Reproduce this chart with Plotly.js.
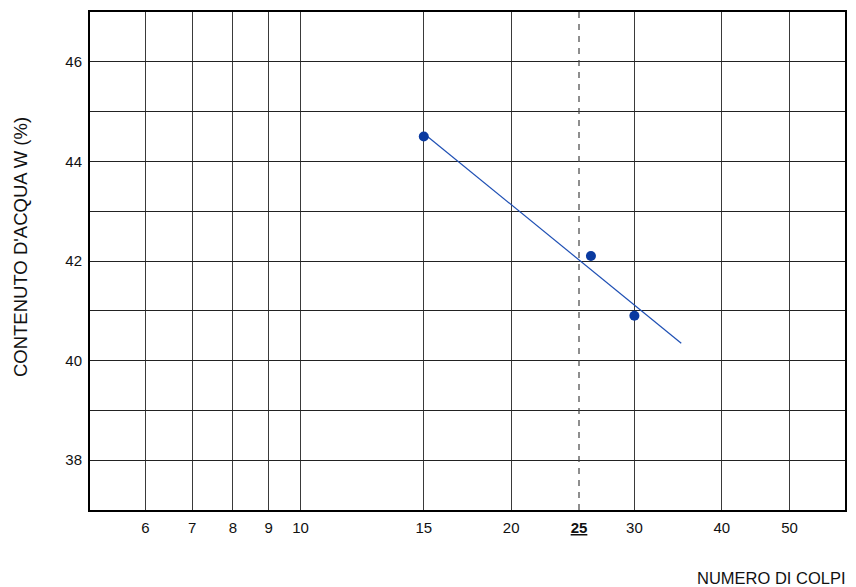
<!DOCTYPE html>
<html>
<head>
<meta charset="utf-8">
<script src="https://cdn.plot.ly/plotly-3.0.1.min.js"></script>
<style>
  html, body { margin: 0; padding: 0; background: #fff; }
  #chart { width: 856px; height: 587px; }
</style>
</head>
<body>
<div id="chart"></div>
<script>
// Prove di Casagrande: numero di colpi e contenuto d'acqua
const colpi = [15, 26, 30];
const contenutoAcqua = [44.5, 42.1, 40.9];

// Retta di interpolazione (w in funzione di log N)
const rettaColpi = [15, 35];
const rettaAcqua = [44.56, 40.35];

// Riferimento a 25 colpi
const colpiRiferimento = 25;

// Etichette asse X
const xTickVals = [6, 7, 8, 9, 10, 15, 20, 25, 30, 40, 50];
const xTickText = ['6', '7', '8', '9', '10', '15', '20', '<b><u>25</u></b>', '30', '40', '50'];
const xGridVals = [6, 7, 8, 9, 10, 15, 20, 30, 40, 50];

const xRange = [5, 60];
const yRange = [37, 47];

const font = 'Liberation Sans, Arial, Helvetica, sans-serif';

const traces = [
  {
    x: [colpiRiferimento, colpiRiferimento],
    y: yRange,
    mode: 'lines',
    line: { color: '#444', width: 1.2, dash: '6px,6px' },
    hoverinfo: 'skip',
    showlegend: false
  },
  {
    x: rettaColpi,
    y: rettaAcqua,
    mode: 'lines',
    line: { color: '#1e4fb4', width: 1.2 },
    showlegend: false
  },
  {
    x: colpi,
    y: contenutoAcqua,
    mode: 'markers',
    marker: { color: '#0a3aa0', size: 10 },
    showlegend: false
  }
];

const layout = {
  width: 856,
  height: 587,
  margin: { l: 90, r: 11, t: 12, b: 77 },
  paper_bgcolor: '#fff',
  plot_bgcolor: '#fff',
  font: { family: font, size: 15, color: '#111' },
  xaxis: {
    type: 'log',
    range: [Math.log10(xRange[0]), Math.log10(xRange[1])],
    tickmode: 'array',
    tickvals: xTickVals,
    ticktext: xTickText,
    ticks: '',
    ticklabelstandoff: 3,
    showgrid: false,
    minor: {
      tickmode: 'array',
      tickvals: xGridVals,
      ticks: '',
      showgrid: true,
      gridcolor: '#3a3a3a',
      gridwidth: 1
    },
    showline: true,
    mirror: true,
    linecolor: '#000',
    linewidth: 2,
    zeroline: false
  },
  yaxis: {
    range: yRange,
    tick0: 38,
    dtick: 2,
    ticks: '',
    ticklabelstandoff: 3,
    showgrid: true,
    gridcolor: '#222',
    gridwidth: 1,
    minor: {
      dtick: 1,
      ticks: '',
      showgrid: true,
      gridcolor: '#222',
      gridwidth: 1
    },
    showline: true,
    mirror: true,
    linecolor: '#000',
    linewidth: 2,
    zeroline: false
  },
  annotations: [
    {
      // titolo asse Y
      text: "CONTENUTO D'ACQUA W (%)",
      xref: 'paper',
      yref: 'paper',
      x: -0.0927,
      y: 0.528,
      xanchor: 'center',
      yanchor: 'middle',
      textangle: -90,
      showarrow: false,
      font: { family: font, size: 18.5, color: '#111' }
    },
    {
      // titolo asse X
      text: 'NUMERO DI COLPI',
      xref: 'paper',
      yref: 'paper',
      x: 1,
      y: 0,
      xanchor: 'right',
      yanchor: 'middle',
      xshift: 3,
      yshift: -68,
      showarrow: false,
      font: { family: font, size: 16.5, color: '#111' }
    }
  ]
};

Plotly.newPlot('chart', traces, layout, { displayModeBar: false, staticPlot: true });
</script>
</body>
</html>
